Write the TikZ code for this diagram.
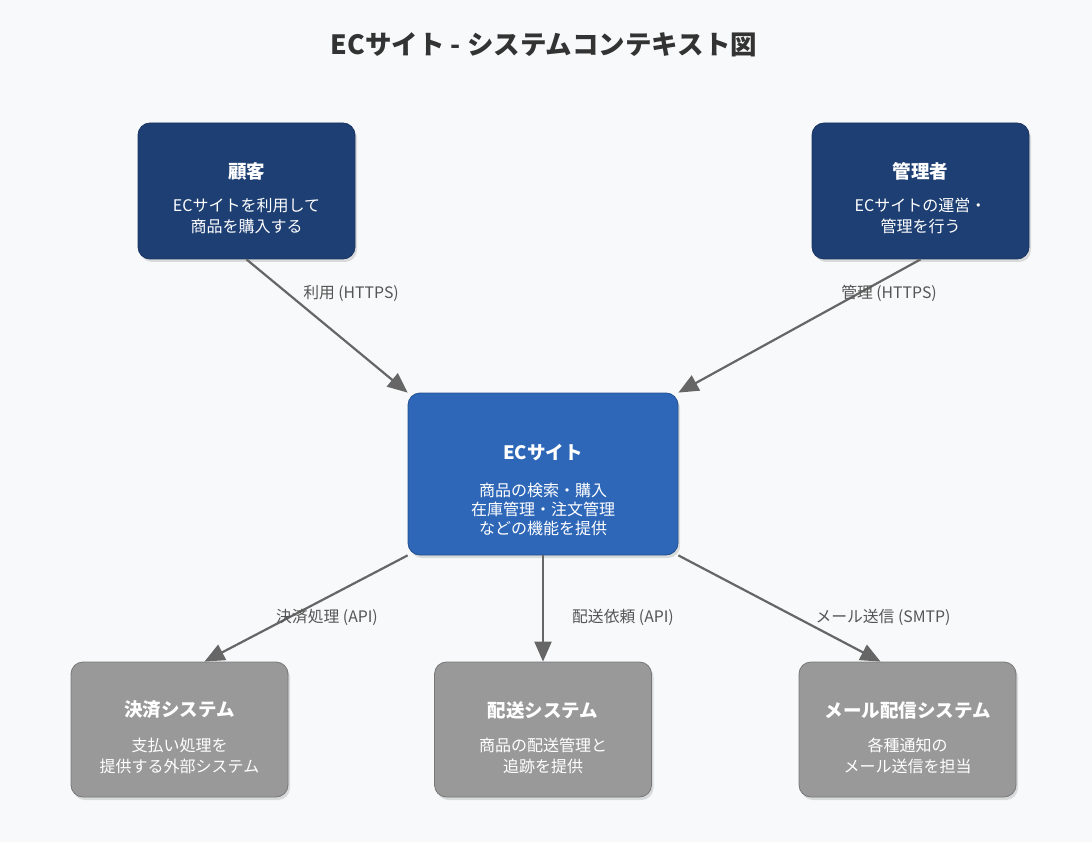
\documentclass[tikz,border=0pt]{standalone}
\usepackage{fontspec}
\setmainfont{Noto Sans CJK JP}
\usetikzlibrary{arrows.meta,shadows,calc}
\definecolor{bg}{HTML}{F8F9FA}
\definecolor{navy}{HTML}{1E3F73}
\definecolor{navyb}{HTML}{1A3562}
\definecolor{blue}{HTML}{2E67B8}
\definecolor{blueb}{HTML}{22508F}
\definecolor{greyf}{HTML}{999999}
\definecolor{greyb}{HTML}{777777}
\definecolor{linec}{HTML}{666666}
\definecolor{labc}{HTML}{555555}
\definecolor{titc}{HTML}{333333}
\tikzset{
  box/.style={rectangle, rounded corners=12pt, minimum width=217pt, minimum height=136pt,
    line width=0.8pt,
    drop shadow={shadow xshift=2pt, shadow yshift=-3pt, opacity=0.12, fill=black}},
  person/.style={box, fill=navy, draw=navyb},
  system/.style={box, fill=blue, draw=blueb, minimum width=270pt, minimum height=162pt},
  ext/.style={box, fill=greyf, draw=greyb, minimum height=135pt},
  btitle/.style={text=white, font=\fontsize{18.5}{22}\selectfont\bfseries},
  bdesc/.style={text=white, align=center, font=\fontsize{16}{21}\selectfont},
  sdesc/.style={text=white, align=center, font=\fontsize{16}{19}\selectfont},
  conn/.style={draw=linec, line width=2.2pt, -{Triangle[length=20pt,width=17pt]}},
  lab/.style={text=labc, font=\fontsize{15.8}{18}\selectfont},
}
\begin{document}
\begin{tikzpicture}[x=1pt,y=-1pt]
\fill[bg] (0,0) rectangle (1092,842);
\useasboundingbox (0,0) rectangle (1092,842);
\node[text=titc, font=\fontsize{26.5}{30}\selectfont\bfseries] (title) at (544,45) {ECサイト - システムコンテキスト図};

\node[person] (cust) at (246.5,191) {};
\node[btitle] (custT) at ($(cust)+(0,-20)$) {顧客};
\node[bdesc] (custD) at ($(cust)+(0,25)$) {ECサイトを利用して\\商品を購入する};

\node[person] (admin) at (920.5,191) {};
\node[btitle] (adminT) at ($(admin)+(0,-20)$) {管理者};
\node[bdesc] (adminD) at ($(admin)+(0,25)$) {ECサイトの運営・\\管理を行う};

\node[system] (ec) at (543,474) {};
\node[btitle] (ecT) at ($(ec)+(0,-21)$) {ECサイト};
\node[sdesc] (ecD) at ($(ec)+(0,35)$) {商品の検索・購入\\在庫管理・注文管理\\などの機能を提供};

\node[ext] (pay) at (179.5,729.5) {};
\node[btitle] (payT) at ($(pay)+(0,-19.5)$) {決済システム};
\node[bdesc] (payD) at ($(pay)+(0,26)$) {支払い処理を\\提供する外部システム};

\node[ext] (ship) at (543,729.5) {};
\node[btitle] (shipT) at ($(ship)+(0,-19.5)$) {配送システム};
\node[bdesc] (shipD) at ($(ship)+(0,26)$) {商品の配送管理と\\追跡を提供};

\node[ext] (mail) at (907.5,729.5) {};
\node[btitle] (mailT) at ($(mail)+(0,-19.5)$) {メール配信システム};
\node[bdesc] (mailD) at ($(mail)+(0,26)$) {各種通知の\\メール送信を担当};

\draw[conn] (cust.south) -- (ec.north west);
\draw[conn] (admin.south) -- (ec.north east);
\draw[conn] (ec.south west) -- ($(pay.north)+(25,0)$);
\draw[conn] (ec.south) -- (ship.north);
\draw[conn] (ec.south east) -- ($(mail.north)+(-27,0)$);

\node[lab] (l1) at (351,293) {利用 (HTTPS)};
\node[lab] (l2) at (889,293) {管理 (HTTPS)};
\node[lab] (l3) at (327,617) {決済処理 (API)};
\node[lab] (l4) at (623,617) {配送依頼 (API)};
\node[lab] (l5) at (883,617) {メール送信 (SMTP)};
\end{tikzpicture}
\end{document}
